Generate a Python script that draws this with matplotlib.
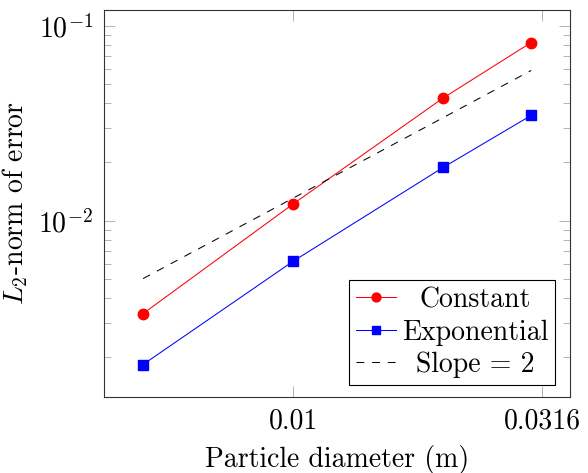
import matplotlib
matplotlib.use("Agg")
import matplotlib.pyplot as plt
from matplotlib.ticker import FixedLocator, FixedFormatter, LogLocator, NullLocator, LogFormatterMathtext, NullFormatter
import numpy as np

# Particle diameters (m) and L2 error norms
diameter = [0.005, 0.01, 0.02, 0.03]
err_constant = [0.00334, 0.0122, 0.0427, 0.0821]
err_exponential = [0.00183, 0.0062, 0.0188, 0.0347]

# Reference line for second-order convergence
slope_x = [0.005, 0.03]
slope_y = [0.00505, 0.059]

x_ticks = [0.01, 0.0316]
x_tick_labels = ["0.01", "0.0316"]

plt.rcParams.update({
    "font.family": "serif",
    "font.serif": ["cmr10"],
    "mathtext.fontset": "cm",
    "axes.formatter.use_mathtext": True,
    "font.size": 20,
})

fig = plt.figure(figsize=(5.88, 4.73), dpi=100)
ax = fig.add_axes([104.3 / 588, 1 - 396.7 / 473, (570 - 104.3) / 588, (396.7 - 10.3) / 473])

ax.plot(diameter, err_constant, color="red", lw=0.75, marker="o", ms=7.5,
        mec="red", mfc="red", label="Constant")
ax.plot(diameter, err_exponential, color="blue", lw=0.75, marker="s", ms=7.3,
        mec="blue", mfc="blue", label="Exponential")
ax.plot(slope_x, slope_y, color="black", lw=0.75, linestyle=(0, (7.5, 7.5)),
        label="Slope = 2")

ax.set_xscale("log")
ax.set_yscale("log")

# 10% enlargement of the data range on the log scale
def enlarged(lo, hi, frac=0.1):
    a, b = np.log10(lo), np.log10(hi)
    d = (b - a) * frac
    return 10 ** (a - d), 10 ** (b + d)

ax.set_xlim(*enlarged(min(diameter), max(diameter)))
ax.set_ylim(*enlarged(min(err_exponential), max(err_constant)))

ax.xaxis.set_major_locator(FixedLocator(x_ticks))
ax.xaxis.set_major_formatter(FixedFormatter(x_tick_labels))
ax.xaxis.set_minor_locator(NullLocator())
ax.yaxis.set_major_locator(LogLocator(base=10))
ax.yaxis.set_major_formatter(LogFormatterMathtext())
ax.yaxis.set_minor_locator(LogLocator(base=10, subs=np.arange(2, 10)))
ax.yaxis.set_minor_formatter(NullFormatter())

ax.tick_params(which="both", direction="in", top=True, right=True,
               color="#8a8a8a", width=0.45)
ax.tick_params(which="major", length=8, pad=8)
ax.tick_params(which="minor", length=5.2)
for s in ax.spines.values():
    s.set_color("#333333")
    s.set_linewidth(0.8)

ax.set_xlabel("Particle diameter (m)", labelpad=8)
ax.set_ylabel(r"$L_2$-norm of error", labelpad=6)

leg = ax.legend(loc="lower right", bbox_to_anchor=(0.968, 0.030), borderaxespad=0,
                fancybox=False, framealpha=1, edgecolor="black",
                handlelength=1.45, handletextpad=0.2, borderpad=0.25,
                labelspacing=0.22, markerscale=0.85)
leg.get_frame().set_linewidth(0.8)

# Centre each legend entry's text within the text column
fig.canvas.draw()
r = fig.canvas.get_renderer()
texts = leg.get_texts()
widths = [t.get_window_extent(r).width for t in texts]
wmax = max(widths)
for t, w in zip(texts, widths):
    t.set_x((wmax - w) / 2)

fig.savefig("out.png", dpi=100)
